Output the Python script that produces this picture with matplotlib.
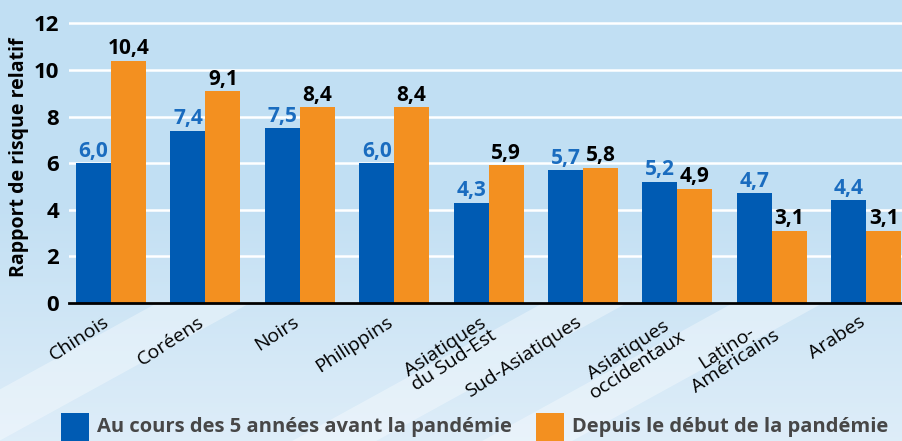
import numpy as np
import matplotlib
matplotlib.use("Agg")
import matplotlib.pyplot as plt
import matplotlib.transforms as mtrans
from matplotlib.patches import Rectangle, Polygon

plt.rcParams['font.family'] = ['Open Sans', 'DejaVu Sans']

categories = ['Chinois', 'Coréens', 'Noirs', 'Philippins', 'Asiatiques\ndu Sud-Est',
              'Sud-Asiatiques', 'Asiatiques\noccidentaux', 'Latino-\nAméricains', 'Arabes']
avant = [6.0, 7.4, 7.5, 6.0, 4.3, 5.7, 5.2, 4.7, 4.4]
depuis = [10.4, 9.1, 8.4, 8.4, 5.9, 5.8, 4.9, 3.1, 3.1]
yticks = [0, 2, 4, 6, 8, 10, 12]
legend_labels = ['Au cours des 5 années avant la pandémie', 'Depuis le début de la pandémie']

blue = '#005bb3'
orange = '#f39020'
label_blue = '#1a6cbf'

W, H = 903, 441
fig = plt.figure(figsize=(W / 100, H / 100), dpi=100)

# background gradient + diagonal light bands
bg = fig.add_axes([0, 0, 1, 1], zorder=-10)
bg.set_axis_off()
top = np.array([0.76, 0.875, 0.953])
bot = np.array([0.87, 0.93, 0.975])
t = np.clip((np.linspace(0, 1, 200) - 0.45) / 0.55, 0, 1)[:, None]
grad = top * (1 - t) + bot * t
bg.imshow(grad[:, None, :].repeat(2, axis=1), aspect='auto', extent=[0, W, H, 0])
bg.set_xlim(0, W)
bg.set_ylim(H, 0)
for x0, x1 in [(157, 250), (543, 627), (733, 823)]:
    drop = 200
    bg.add_patch(Polygon([(x0, 303), (x1, 303), (x1 - drop / 0.55, 303 + drop), (x0 - drop / 0.55, 303 + drop)],
                         closed=True, facecolor='white', alpha=0.35, edgecolor='none'))

ax = fig.add_axes([69 / W, 1 - 303 / H, (W - 69) / W, 303 / H])
ax.set_facecolor('none')
x = np.arange(len(categories))
w = 0.37
b1 = ax.bar(x - w / 2, avant, w, color=blue, zorder=3)
b2 = ax.bar(x + w / 2, depuis, w, color=orange, zorder=3)

for rect, v in zip(b1, avant):
    ax.text(rect.get_x() + rect.get_width() / 2, v + 0.06, f'{v:.1f}'.replace('.', ','),
            ha='center', va='bottom', color=label_blue, fontsize=15, fontweight='bold', zorder=4)
for rect, v in zip(b2, depuis):
    ax.text(rect.get_x() + rect.get_width() / 2, v + 0.06, f'{v:.1f}'.replace('.', ','),
            ha='center', va='bottom', color='black', fontsize=15, fontweight='bold', zorder=4)

ax.set_xlim(-0.445, 8.39)
ax.set_ylim(0, 13)
ax.set_yticks(yticks)
ax.set_yticklabels([str(v) for v in yticks], fontsize=16, fontweight='bold')
ax.yaxis.grid(True, color='white', linewidth=1.8, zorder=0)
ax.set_axisbelow(True)
ax.tick_params(axis='y', length=0, pad=7)
ax.tick_params(axis='x', length=0, pad=7)
ax.set_xticks(x)
ax.set_xticklabels(categories, rotation=33, ha='right', rotation_mode='anchor',
                   fontsize=14, multialignment='center', linespacing=0.9)
shift = mtrans.ScaledTranslation(-8 / 100, 0, fig.dpi_scale_trans)
for lab in ax.get_xticklabels():
    lab.set_transform(lab.get_transform() + shift)
for s in ['top', 'right', 'left']:
    ax.spines[s].set_visible(False)
ax.spines['bottom'].set_linewidth(2)
ax.spines['bottom'].set_zorder(5)
ax.set_ylabel('Rapport de risque relatif', fontsize=14, fontweight='bold')
ax.yaxis.set_label_coords(-0.048, 0.48)

# legend
for (xs, xt), col, lab in zip([(61, 97), (536, 572)], [blue, orange], legend_labels):
    fig.patches.append(Rectangle((xs / W, 0), 28 / W, 28 / H, transform=fig.transFigure,
                                 facecolor=col, edgecolor='none'))
    fig.text(xt / W, 1 - 427 / H, lab, fontsize=14.5, fontweight='bold', color='#474747',
             ha='left', va='center')

fig.savefig('out.png', dpi=100)
